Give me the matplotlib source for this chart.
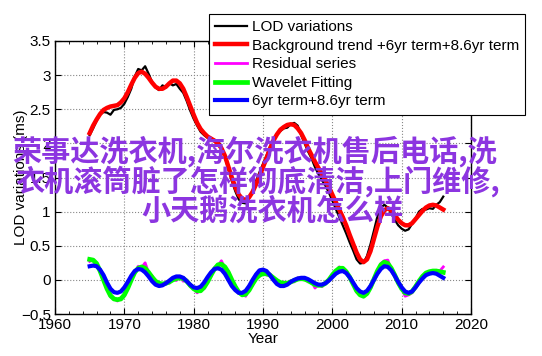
import numpy as np
import matplotlib
matplotlib.use("Agg")
import matplotlib.pyplot as plt
from matplotlib.ticker import MultipleLocator

plt.rcParams['font.family'] = ['Liberation Sans', 'DejaVu Sans']

years = np.arange(1965.0, 2016.01, 0.5)

lod = [2.12, 2.22, 2.33, 2.42, 2.46, 2.45, 2.42, 2.49, 2.50, 2.52,
       2.58, 2.68, 2.80, 2.98, 3.09, 3.07, 3.13, 3.02, 2.90, 2.82,
       2.78, 2.85, 2.82, 2.88, 2.85, 2.87, 2.80, 2.74, 2.62, 2.48,
       2.36, 2.26, 2.17, 2.12, 2.08, 2.07, 2.05, 2.04, 1.95, 1.80,
       1.62, 1.45, 1.30, 1.18, 1.13, 1.12, 1.20, 1.30, 1.45, 1.58,
       1.70, 1.82, 1.95, 2.05, 2.14, 2.18, 2.22, 2.23, 2.28, 2.30,
       2.26, 2.12, 2.00, 1.88, 1.78, 1.65, 1.55, 1.46, 1.38, 1.28,
       1.16, 1.04, 0.92, 0.80, 0.68, 0.55, 0.43, 0.30, 0.24, 0.25,
       0.35, 0.52, 0.72, 0.93, 1.06, 1.10, 1.06, 0.97, 0.88, 0.80,
       0.75, 0.72, 0.74, 0.82, 0.90, 1.00, 1.04, 1.03, 1.05, 1.04,
       1.10, 1.14, 1.22]

trend = [2.15, 2.26, 2.35, 2.43, 2.49, 2.52, 2.54, 2.55, 2.56, 2.60,
         2.66, 2.75, 2.86, 2.96, 3.03, 3.05, 3.02, 2.96, 2.89, 2.83,
         2.80, 2.80, 2.83, 2.88, 2.92, 2.92, 2.88, 2.80, 2.68, 2.55,
         2.42, 2.30, 2.21, 2.15, 2.10, 2.07, 2.04, 2.00, 1.93, 1.82,
         1.66, 1.50, 1.36, 1.25, 1.19, 1.17, 1.21, 1.29, 1.40, 1.52,
         1.65, 1.78, 1.92, 2.04, 2.13, 2.20, 2.24, 2.27, 2.28, 2.27,
         2.22, 2.15, 2.05, 1.93, 1.83, 1.73, 1.64, 1.55, 1.46, 1.36,
         1.25, 1.14, 1.03, 0.92, 0.80, 0.66, 0.53, 0.40, 0.30, 0.26,
         0.30, 0.42, 0.60, 0.78, 0.93, 1.02, 1.05, 1.02, 0.95, 0.88,
         0.83, 0.80, 0.80, 0.83, 0.89, 0.95, 1.01, 1.06, 1.09, 1.10,
         1.09, 1.06, 1.03]

residual = [0.27, 0.30, 0.22, 0.15, -0.02, -0.12, -0.25, -0.27, -0.31, -0.26,
            -0.24, -0.10, 0.03, 0.09, 0.20, 0.18, 0.25, 0.10, 0.06, -0.03,
            -0.04, -0.08, -0.03, -0.05, 0.02, -0.01, 0.05, -0.02, 0.00, -0.10,
            -0.12, -0.19, -0.14, -0.13, -0.01, 0.05, 0.18, 0.21, 0.28, 0.17,
            0.13, -0.02, -0.08, -0.20, -0.20, -0.24, -0.13, -0.08, 0.04, 0.05,
            0.11, 0.07, 0.09, 0.01, 0.00, -0.06, -0.03, -0.07, -0.01, -0.03,
            0.03, 0.00, 0.02, -0.03, -0.02, -0.12, -0.07, -0.10, -0.04, -0.02,
            0.09, 0.11, 0.19, 0.15, 0.13, 0.02, -0.04, -0.18, -0.20, -0.25,
            -0.18, -0.13, 0.03, 0.11, 0.24, 0.28, 0.29, 0.15, 0.09, -0.06,
            -0.12, -0.24, -0.22, -0.19, -0.08, -0.04, 0.06, 0.06, 0.12, 0.10,
            0.14, 0.13, 0.19]

wavelet = [0.30, 0.29, 0.24, 0.13, 0.00, -0.13, -0.23, -0.28, -0.29, -0.28,
           -0.22, -0.12, 0.00, 0.11, 0.17, 0.19, 0.17, 0.11, 0.04, -0.02,
           -0.05, -0.06, -0.05, -0.03, 0.00, 0.02, 0.03, 0.02, -0.02, -0.08,
           -0.13, -0.16, -0.16, -0.11, -0.03, 0.07, 0.16, 0.22, 0.23, 0.19,
           0.11, 0.00, -0.10, -0.18, -0.22, -0.21, -0.15, -0.06, 0.02, 0.07,
           0.09, 0.09, 0.07, 0.03, -0.01, -0.04, -0.05, -0.05, -0.03, -0.01,
           0.01, 0.02, 0.01, -0.01, -0.04, -0.07, -0.08, -0.08, -0.05, 0.00,
           0.07, 0.13, 0.17, 0.17, 0.12, 0.04, -0.06, -0.16, -0.22, -0.24,
           -0.20, -0.11, 0.01, 0.13, 0.22, 0.26, 0.24, 0.17, 0.07, -0.04,
           -0.13, -0.19, -0.20, -0.17, -0.10, -0.02, 0.05, 0.10, 0.12, 0.13,
           0.13, 0.12, 0.11]

terms = [0.20, 0.21, 0.20, 0.15, 0.07, -0.04, -0.13, -0.18, -0.19, -0.17,
         -0.11, -0.03, 0.06, 0.13, 0.16, 0.15, 0.11, 0.05, -0.02, -0.07,
         -0.09, -0.08, -0.05, -0.01, 0.03, 0.05, 0.05, 0.03, -0.02, -0.07,
         -0.11, -0.12, -0.10, -0.04, 0.04, 0.11, 0.16, 0.17, 0.15, 0.09,
         0.00, -0.09, -0.15, -0.19, -0.19, -0.16, -0.09, 0.00, 0.08, 0.14,
         0.15, 0.13, 0.07, 0.00, -0.06, -0.09, -0.09, -0.07, -0.03, 0.00,
         0.02, 0.03, 0.03, 0.01, -0.02, -0.05, -0.07, -0.07, -0.05, -0.01,
         0.04, 0.09, 0.12, 0.13, 0.10, 0.04, -0.04, -0.12, -0.17, -0.19,
         -0.16, -0.09, 0.00, 0.09, 0.16, 0.20, 0.19, 0.14, 0.06, -0.03,
         -0.11, -0.17, -0.19, -0.17, -0.11, -0.04, 0.02, 0.07, 0.09, 0.10,
         0.09, 0.06, 0.03]

labels = ["LOD variations", "Background trend +6yr term+8.6yr term",
          "Residual series", "Wavelet Fitting", "6yr term+8.6yr term"]

watermark = ["荣事达洗衣机,海尔洗衣机售后电话,洗",
             "衣机滚筒脏了怎样彻底清洁,上门维修,",
             "小天鹅洗衣机怎么样"]

W, H = 542, 356
fig = plt.figure(figsize=(W / 100, H / 100), dpi=100)
ax = fig.add_axes([55 / W, 1 - 314 / H, 416 / W, 273 / H])

l1, = ax.plot(years, lod, color='black', lw=1.6)
l2, = ax.plot(years, trend, color='#ff0000', lw=3.2)
l3, = ax.plot(years, residual, color='#ff00ff', lw=2.0)
l4, = ax.plot(years, wavelet, color='#00ff00', lw=3.4)
l5, = ax.plot(years, terms, color='#0000ff', lw=3.0)

ax.set_xlim(1960, 2020)
ax.set_ylim(-0.5, 3.5)
ax.xaxis.set_major_locator(MultipleLocator(10))
ax.xaxis.set_minor_locator(MultipleLocator(2))
ax.set_yticks([-0.5, 0, 0.5, 1, 1.5, 2, 2.5, 3, 3.5])
ax.set_yticklabels(['\u22120.5', '0', '0.5', '1', '1.5', '2', '2.5', '3', '3.5'])
ax.tick_params(which='both', direction='in', top=True, right=True, labelsize=11,
               pad=3)
ax.tick_params(which='major', length=4, width=0.8)
ax.tick_params(which='minor', length=2, width=0.6)
ax.grid(True, which='major', linestyle=':', color='#888888', lw=0.8)
for s in ax.spines.values():
    s.set_linewidth(1.0)

ax.set_xlabel('Year', fontsize=11, labelpad=0)
ax.set_ylabel('LOD variations (ms)', fontsize=11)
ax.yaxis.set_label_coords(-0.066, 0.5)

leg = fig.legend([l1, l2, l3, l4, l5], labels, loc='upper left',
                 bbox_to_anchor=(209 / W, 1 - 14 / H), fontsize=11,
                 frameon=True, fancybox=False, framealpha=1, edgecolor='black',
                 handlelength=2.1, handletextpad=0.3, labelspacing=0.3,
                 borderpad=0.4, borderaxespad=0)
leg.get_frame().set_linewidth(0.8)

ys = [151, 181, 211]
xs = [12, 15, 141]
for t, x, y in zip(watermark, xs, ys):
    fig.text(x / W, 1 - y / H, t, fontsize=21, color='#8c35e0',
             family=['Noto Sans CJK SC', 'DejaVu Sans'], fontweight='bold',
             ha='left', va='center')

fig.savefig('out.png', dpi=100)
